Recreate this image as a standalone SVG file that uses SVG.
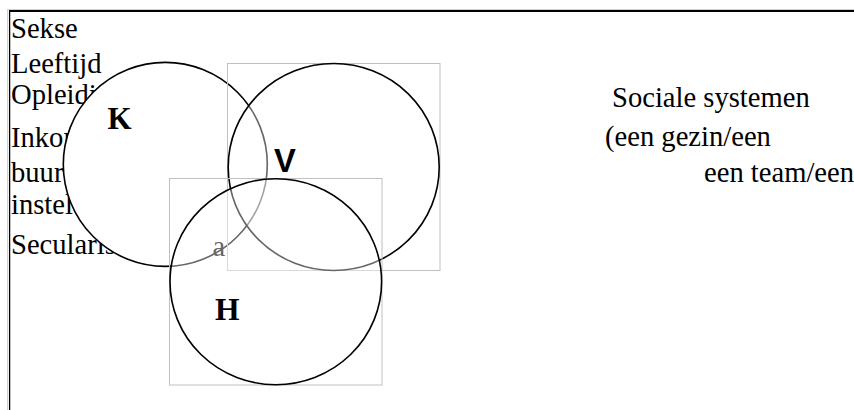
<svg xmlns="http://www.w3.org/2000/svg" width="854" height="410" viewBox="0 0 854 410">
<style>
.t{font-family:"Liberation Serif","Times New Roman",serif;font-size:28.6px;fill:#000}
.lbl{font-family:"Liberation Serif","Times New Roman",serif;font-weight:bold;fill:#000}
.circ{stroke:#000;stroke-width:1.6}
.box{fill:none;stroke:#c0c0c0;stroke-width:1}
.veil{fill:#fff;fill-opacity:0.4}
</style>
<rect x="0" y="0" width="854" height="410" fill="#fff"/>
<g id="frame">
<line x1="7.5" y1="9" x2="7.5" y2="410" stroke="#d0d0d0" stroke-width="1"/>
<line x1="7" y1="9.5" x2="854" y2="9.5" stroke="#d0d0d0" stroke-width="1"/>
<line x1="9" y1="11" x2="854" y2="11" stroke="#000" stroke-width="2"/>
<line x1="9.6" y1="10" x2="9.6" y2="410" stroke="#000" stroke-width="1.3"/>
</g>
<g id="left-text">
<text class="t" x="11" y="37.5">Sekse</text>
<text class="t" x="11" y="73.3">Leeftijd</text>
<text class="t" x="11" y="104">Opleidi</text>
<text class="t" x="11" y="146.7">Inkom</text>
<text class="t" x="11" y="181.7">buur</text>
<text class="t" x="11" y="214">instel</text>
<text class="t" x="11" y="254">Secularis</text>
</g>
<g id="right-text">
<text class="t" x="612" y="107">Sociale systemen</text>
<text class="t" x="605" y="146">(een gezin/een</text>
<text class="t" x="704" y="181.7">een team/een</text>
</g>
<g id="connectors"/>
<g id="node-K">
<circle class="circ" cx="165.3" cy="164.4" r="102" fill="#fff"/>
<text class="lbl" x="107.5" y="129.3" font-size="31">K</text>
</g>
<g id="node-V">
<rect class="box" x="227.5" y="63.5" width="212.5" height="207"/>
<ellipse class="circ veil" cx="333.7" cy="167" rx="105.5" ry="103.5"/>
<text x="274" y="171.7" font-family="Liberation Sans, Arial, sans-serif" font-weight="bold" font-size="32.7">V</text>
</g>
<g id="fragment">
<text class="t" x="212.5" y="256">a</text>
</g>
<g id="node-H">
<rect class="box" x="169.5" y="178.5" width="212.5" height="206.5"/>
<ellipse class="circ veil" cx="275.8" cy="281.7" rx="105.8" ry="103"/>
<text class="lbl" x="215" y="320" font-size="31.5">H</text>
</g>
</svg>
